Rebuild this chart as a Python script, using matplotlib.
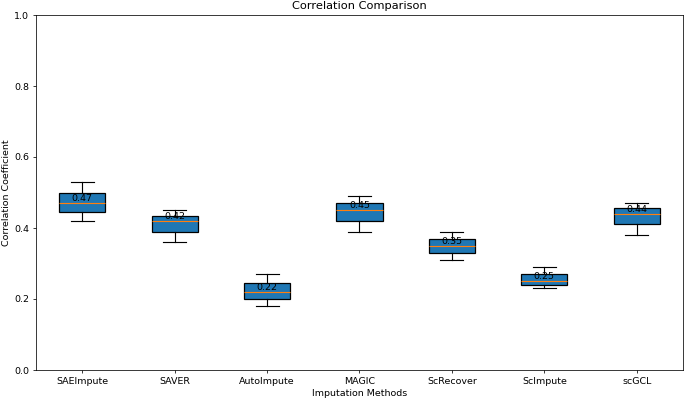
import matplotlib
matplotlib.use("Agg")
import matplotlib.pyplot as plt

methods = ["SAEImpute", "SAVER", "AutoImpute", "MAGIC", "ScRecover", "ScImpute", "scGCL"]

# five correlation values per method (min, q1, median, q3, max)
saeimpute = [0.42, 0.445, 0.47, 0.50, 0.53]
saver = [0.36, 0.39, 0.42, 0.435, 0.45]
autoimpute = [0.18, 0.20, 0.22, 0.245, 0.27]
magic = [0.39, 0.42, 0.45, 0.47, 0.49]
screcover = [0.31, 0.33, 0.35, 0.37, 0.39]
scimpute = [0.23, 0.24, 0.25, 0.27, 0.29]
scgcl = [0.38, 0.41, 0.44, 0.455, 0.47]

data = [saeimpute, saver, autoimpute, magic, screcover, scimpute, scgcl]

fig = plt.figure(figsize=(10, 400 / 68.5), dpi=68.5)
ax = fig.add_axes([36 / 685, 30 / 400, 647 / 685, 355 / 400])

bp = ax.boxplot(
    data,
    patch_artist=True,
    widths=0.5,
    boxprops=dict(linewidth=1.3),
    whiskerprops=dict(linewidth=1.2),
    capprops=dict(linewidth=1.2),
    medianprops=dict(color="#ff7f0e", linewidth=1.2),
)
for box in bp["boxes"]:
    box.set_facecolor("#1f77b4")
    box.set_edgecolor("black")

for i, values in enumerate(data):
    med = sorted(values)[len(values) // 2]
    ax.text(i + 1, med, f"{med:.2f}", ha="center", va="bottom", fontsize=10)

ax.set_xticks(range(1, len(methods) + 1))
ax.set_xticklabels(methods)
ax.set_ylim(0, 1)
ax.set_title("Correlation Comparison", fontsize=12)
ax.set_xlabel("Imputation Methods")
ax.set_ylabel("Correlation Coefficient")

fig.savefig("out.png", dpi=68.5)
